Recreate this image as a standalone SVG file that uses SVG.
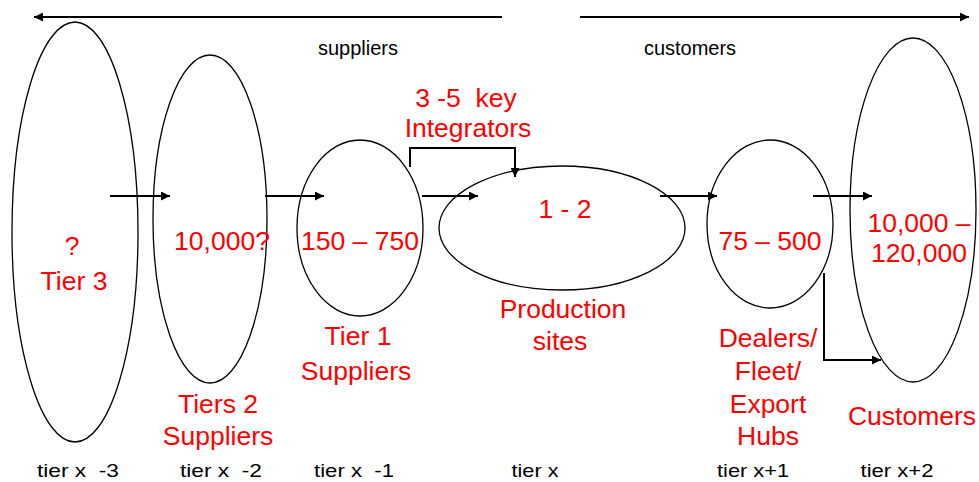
<svg xmlns="http://www.w3.org/2000/svg" width="979" height="482" viewBox="0 0 979 482">
<style>
text{white-space:pre}
.n{fill:none;stroke:#000;stroke-width:1.3}
.c{fill:none;stroke:#000;stroke-width:2}
.r{font-family:"Liberation Sans",Arial,sans-serif;font-size:26.5px;fill:#ff0000;text-anchor:middle}
.b{font-family:"Liberation Sans",Arial,sans-serif;font-size:20px;fill:#000;text-anchor:middle}
.t{font-family:"Liberation Sans",Arial,sans-serif;font-size:19px;fill:#000;text-anchor:middle}
</style>
<defs>
<marker id="a" viewBox="0 0 10 10" refX="10" refY="5" markerWidth="12" markerHeight="9" markerUnits="userSpaceOnUse" orient="auto">
<path d="M0,0L10,5L0,10z" fill="#000"/>
</marker>
</defs>
<g id="connectors">
<line class="c" x1="502" y1="17" x2="34" y2="17" marker-end="url(#a)"/>
<line class="c" x1="580" y1="17" x2="969" y2="17" marker-end="url(#a)"/>
<line class="c" x1="110" y1="196" x2="170" y2="196" marker-end="url(#a)"/>
<line class="c" x1="265" y1="196" x2="324" y2="196" marker-end="url(#a)"/>
<line class="c" x1="422" y1="196" x2="478" y2="196" marker-end="url(#a)"/>
<line class="c" x1="660" y1="196" x2="717" y2="196" marker-end="url(#a)"/>
<line class="c" x1="813" y1="196" x2="872" y2="196" marker-end="url(#a)"/>
<polyline class="c" points="410,167 410,148 515,148 515,177" marker-end="url(#a)"/>
<polyline class="c" points="824,273 824,360 881,360" marker-end="url(#a)"/>
</g>
<g id="tier3"><ellipse class="n" cx="75" cy="232" rx="63" ry="210"/>
<text class="r" x="72" y="255">?</text><text class="r" x="74" y="290">Tier 3</text></g>
<g id="tier2"><ellipse class="n" cx="210" cy="219" rx="57" ry="164"/>
<text class="r" x="222" y="250">10,000?</text><text class="r" x="218" y="413">Tiers 2</text><text class="r" x="218" y="445">Suppliers</text></g>
<g id="tier1"><ellipse class="n" cx="360" cy="228" rx="63" ry="88"/>
<text class="r" x="360" y="250">150 – 750</text><text class="r" x="358" y="345">Tier 1</text><text class="r" x="356" y="380">Suppliers</text></g>
<g id="integrators"><text class="r" x="466" y="107">3 -5  key</text><text class="r" x="468" y="137">Integrators</text></g>
<g id="production"><ellipse class="n" cx="562" cy="228" rx="123" ry="62"/>
<text class="r" x="565" y="218">1 - 2</text><text class="r" x="563" y="318">Production</text><text class="r" x="560" y="350">sites</text></g>
<g id="dealers"><ellipse class="n" cx="770" cy="224" rx="63" ry="84"/>
<text class="r" x="770" y="250">75 – 500</text><text class="r" x="768" y="347">Dealers/</text><text class="r" x="768" y="380">Fleet/</text><text class="r" x="768" y="413">Export</text><text class="r" x="768" y="445">Hubs</text></g>
<g id="customers"><ellipse class="n" cx="913" cy="210" rx="63" ry="172"/>
<text class="r" x="919" y="232">10,000 –</text><text class="r" x="919" y="262">120,000</text><text class="r" x="912" y="425">Customers</text></g>
<g id="labels">
<text class="b" x="358" y="55">suppliers</text><text class="b" x="690" y="55">customers</text>
<text class="t" x="78" y="477" textLength="82" lengthAdjust="spacingAndGlyphs">tier x  -3</text>
<text class="t" x="221" y="477" textLength="82" lengthAdjust="spacingAndGlyphs">tier x  -2</text>
<text class="t" x="354" y="477" textLength="80" lengthAdjust="spacingAndGlyphs">tier x  -1</text>
<text class="t" x="535" y="477" textLength="47" lengthAdjust="spacingAndGlyphs">tier x</text>
<text class="t" x="753" y="477" textLength="72" lengthAdjust="spacingAndGlyphs">tier x+1</text>
<text class="t" x="897" y="477" textLength="73" lengthAdjust="spacingAndGlyphs">tier x+2</text>
</g>
</svg>
